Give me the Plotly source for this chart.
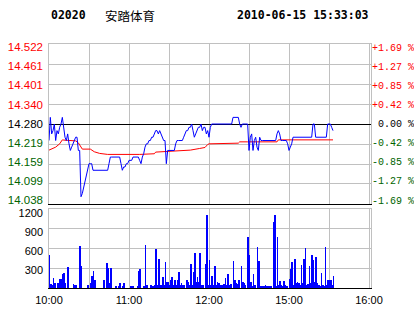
import plotly.graph_objects as go

# ---------------- data ----------------
stock_code = "02020"
stock_name = "安踏体育"
stamp = "2010-06-15 15:33:03"
prev_close = 14.28

sessions = [("10:00", "12:29"), ("14:30", "15:33")]

prices = [
    14.23, 14.30, 14.25, 14.26, 14.28, 14.23, 14.26, 14.25, 14.27, 14.28,
    14.30, 14.26, 14.24, 14.23, 14.25, 14.22, 14.20, 14.21, 14.22, 14.23,
    14.24, 14.24, 14.20, 14.20, 14.06, 14.07, 14.09, 14.11, 14.13, 14.15,
    14.16, 14.16, 14.16, 14.14, 14.14, 14.14, 14.14, 14.14, 14.14, 14.14,
    14.14, 14.14, 14.14, 14.14, 14.14, 14.16, 14.18, 14.18, 14.18, 14.18,
    14.18, 14.18, 14.18, 14.18, 14.16, 14.14, 14.15, 14.15, 14.16, 14.16,
    14.17, 14.17, 14.17, 14.18, 14.18, 14.18, 14.18, 14.18, 14.17, 14.16,
    14.18, 14.19, 14.21, 14.22, 14.22, 14.23, 14.23, 14.24, 14.24, 14.25,
    14.26, 14.26, 14.25, 14.26, 14.25, 14.24, 14.23, 14.23, 14.16, 14.20,
    14.20, 14.20, 14.20, 14.20, 14.20, 14.22, 14.23, 14.23, 14.23, 14.23,
    14.23, 14.24, 14.25, 14.26, 14.26, 14.27, 14.27, 14.28, 14.26, 14.24,
    14.25, 14.26, 14.27, 14.27, 14.28, 14.26, 14.27, 14.27, 14.25, 14.26,
    14.24, 14.27, 14.28, 14.28, 14.28, 14.28, 14.28, 14.28, 14.28, 14.28,
    14.28, 14.28, 14.28, 14.28, 14.28, 14.28, 14.28, 14.28, 14.30, 14.30,
    14.30, 14.30, 14.30, 14.28, 14.27, 14.28, 14.28, 14.28, 14.28, 14.28,
    14.20, 14.24, 14.25, 14.20, 14.23, 14.24, 14.21, 14.20, 14.24, 14.23,
    14.23, 14.23, 14.23, 14.23, 14.23, 14.23, 14.23, 14.23, 14.23, 14.23,
    14.23, 14.25, 14.26, 14.25, 14.23, 14.23, 14.23, 14.23, 14.23, 14.22,
    14.20, 14.21, 14.22, 14.24, 14.24, 14.24, 14.24, 14.24, 14.24, 14.24,
    14.24, 14.24, 14.24, 14.24, 14.24, 14.24, 14.24, 14.24, 14.28, 14.28,
    14.24, 14.24, 14.24, 14.24, 14.24, 14.24, 14.24, 14.24, 14.24, 14.28,
    14.28, 14.28, 14.27, 14.26,
]

volumes = [
    505, 60, 50, 148, 71, 0, 71, 71, 130, 130,
    214, 229, 71, 0, 316, 0, 0, 0, 60, 40,
    40, 0, 0, 642, 336, 0, 0, 0, 0, 40,
    0, 76, 183, 260, 122, 0, 0, 0, 0, 0,
    0, 122, 0, 387, 306, 76, 306, 0, 0, 0,
    35, 0, 35, 72, 0, 35, 72, 0, 0, 0,
    0, 35, 35, 35, 0, 0, 35, 260, 290, 0,
    0, 35, 657, 40, 0, 0, 50, 35, 35, 45,
    596, 45, 438, 45, 45, 165, 45, 402, 95, 95,
    45, 122, 168, 45, 122, 45, 122, 250, 45, 76,
    45, 45, 0, 122, 95, 45, 367, 45, 250, 530,
    95, 163, 97, 530, 46, 46, 0, 367, 1106, 46,
    428, 46, 183, 46, 336, 46, 97, 71, 46, 46,
    46, 55, 148, 46, 214, 46, 55, 0, 412, 122,
    71, 55, 122, 0, 336, 97, 71, 46, 0, 770,
    494, 97, 31, 214, 46, 0, 627, 412, 31, 31,
    31, 31, 46, 31, 31, 31, 31, 0, 1009, 1116,
    31, 770, 46, 110, 46, 31, 110, 46, 31, 0,
    140, 290, 402, 46, 443, 71, 97, 71, 46, 351,
    71, 443, 606, 46, 55, 341, 76, 505, 428, 97,
    469, 76, 46, 31, 229, 46, 31, 627, 46, 122,
    122, 122, 46, 183,
]

avg_times = ["10:00", "10:02", "10:05", "10:08", "10:10", "10:12", "10:20", "10:22",
             "10:25", "10:31", "10:34", "10:38", "10:44", "11:08", "11:19", "11:20",
             "11:35", "11:46", "11:53", "11:57", "11:59", "12:00", "12:22", "12:23",
             "12:29", "14:30", "14:51", "14:52", "15:33"]
avg_prices = [14.201, 14.205, 14.210, 14.220, 14.232, 14.231, 14.229, 14.223,
              14.204, 14.204, 14.196, 14.191, 14.188, 14.188, 14.190, 14.195,
              14.198, 14.201, 14.206, 14.209, 14.218, 14.220, 14.222, 14.226,
              14.226, 14.226, 14.226, 14.232, 14.232]

price_ticks = [14.038, 14.099, 14.159, 14.219, 14.280, 14.340, 14.401, 14.461, 14.522]
pct_labels = ["-1.69 %", "-1.27 %", "-0.85 %", "-0.42 %", " 0.00 %",
              "+0.42 %", "+0.85 %", "+1.27 %", "+1.69 %"]
vol_ticks = [300, 600, 900, 1200]
time_ticks = ["10:00", "10:30", "11:00", "11:30", "12:00", "14:30", "15:00", "15:30", "16:00"]
time_labels = ["10:00", "", "11:00", "", "12:00", "", "15:00", "", "16:00"]

# ---------------- helpers ----------------
def to_min(t):
    h, m = t.split(":")
    return int(h) * 60 + int(m)

AM_START = to_min("10:00")
AM_LEN = to_min("12:30") - AM_START
PM_START = to_min("14:30")

def sess_index(t):
    k = to_min(t)
    if k >= PM_START:
        return AM_LEN + (k - PM_START)
    return k - AM_START

minute_times = []
for a, b in sessions:
    for k in range(to_min(a), to_min(b) + 1):
        minute_times.append(f"{k // 60:02d}:{k % 60:02d}")

xs = [sess_index(t) for t in minute_times]
avg_x = [sess_index(t) for t in avg_times]
tick_x = [sess_index(t) for t in time_ticks]

RED = "#ff0000"
GREEN = "#006400"
GRID = "#c0c0c0"

def color_for(v):
    if abs(v - prev_close) < 1e-9:
        return "#000000"
    return RED if v > prev_close else GREEN

left_text = [f'<span style="color:{color_for(v)}">{v:.3f}</span>' for v in price_ticks]
right_text = [f'<span style="color:{color_for(v)}">{s}</span>' for v, s in zip(price_ticks, pct_labels)]

# ---------------- geometry ----------------
W, H = 414, 314
ml, mr, mt, mb = 49, 43, 44, 26
ph = H - mt - mb
TOP_Y0, TOP_Y1 = 44, 204      # top panel pixel rows
BOT_Y0, BOT_Y1 = 209, 288     # volume panel pixel rows
top_dom = [(H - mb - TOP_Y1) / ph, 1]
bot_dom = [0, (H - mb - BOT_Y0) / ph]

p_lo, p_hi = price_ticks[0], price_ticks[-1]
p_per_px = (p_hi - p_lo) / 152.8
lab_range = [p_lo - 4.0 * p_per_px, p_hi + 3.2 * p_per_px]
v_per_px = (vol_ticks[-1] - vol_ticks[0]) / 56.7
vlab_range = [vol_ticks[0] - 18.0 * v_per_px, vol_ticks[-1] + 4.3 * v_per_px]

# ---------------- figure ----------------
fig = go.Figure()

def dummy(xa, ya, yv):
    fig.add_trace(go.Scatter(x=[xs[0]], y=[yv], mode="lines", line=dict(width=0),
                             xaxis=xa, yaxis=ya, hoverinfo="skip", showlegend=False))

fig.add_trace(go.Scatter(x=avg_x, y=avg_prices, mode="lines",
                         line=dict(color=RED, width=1), xaxis="x", yaxis="y",
                         hoverinfo="skip", showlegend=False))
fig.add_trace(go.Scatter(x=xs, y=prices, mode="lines",
                         line=dict(color="#0000ff", width=1), xaxis="x", yaxis="y",
                         hoverinfo="skip", showlegend=False))
dummy("x", "y3", prev_close)
dummy("x", "y4", prev_close)
dummy("x", "y6", 0)
dummy("x3", "y", prev_close)
fig.add_trace(go.Bar(x=xs, y=volumes, width=0.75, offset=0,
                     marker=dict(color="#0000ff", line=dict(width=0)),
                     xaxis="x2", yaxis="y2", hoverinfo="skip", showlegend=False))
dummy("x2", "y5", vol_ticks[0])
dummy("x4", "y2", vol_ticks[0])

xcommon = dict(range=[0, 241.5], tickvals=tick_x, showgrid=True, gridcolor=GRID,
               gridwidth=1, zeroline=False, showline=True, mirror=False,
               linecolor="black", linewidth=1, ticks="", automargin=False)
xtop = dict(range=[0, 241.5], showgrid=False, zeroline=False, showline=True,
            linecolor=GRID, linewidth=1, ticks="", showticklabels=False,
            side="top", automargin=False)
grid_y = dict(showgrid=True, gridcolor=GRID, gridwidth=1, zeroline=False,
              showline=True, mirror=True, linecolor=GRID, linewidth=1,
              ticks="", showticklabels=False, automargin=False)
label_y = dict(showgrid=False, zeroline=False, showline=False, ticks="",
               automargin=False)

fig.update_layout(
    width=W, height=H,
    margin=dict(l=ml, r=mr, t=mt, b=mb, pad=0, autoexpand=False),
    paper_bgcolor="white", plot_bgcolor="white",
    showlegend=False, bargap=0,
    xaxis=dict(**xcommon, anchor="y", showticklabels=False),
    xaxis2=dict(**xcommon, anchor="y2", ticktext=time_labels, ticklabelstandoff=2,
                tickfont=dict(family="Liberation Sans", size=11, color="black")),
    xaxis3=dict(**xtop, overlaying="x", anchor="y"),
    xaxis4=dict(**xtop, overlaying="x2", anchor="y2"),
    yaxis=dict(**grid_y, domain=top_dom, range=[p_lo, p_hi], tickvals=price_ticks,
               anchor="x"),
    yaxis6=dict(overlaying="y", anchor="x", range=[p_lo - prev_close, p_hi - prev_close],
                showgrid=False, showline=False, showticklabels=False, ticks="",
                zeroline=True, zerolinecolor="black", zerolinewidth=1,
                automargin=False),
    yaxis4=dict(**label_y, overlaying="y", side="left", anchor="x",
                range=lab_range, tickvals=price_ticks, ticktext=left_text,
                ticklabelstandoff=5,
                tickfont=dict(family="Liberation Sans", size=11.5, color="black")),
    yaxis3=dict(**label_y, overlaying="y", side="right", anchor="x",
                range=lab_range, tickvals=price_ticks, ticktext=right_text,
                ticklabelstandoff=0,
                tickfont=dict(family="Liberation Mono", size=10, color="black")),
    yaxis2=dict(**grid_y, domain=bot_dom, range=[0, vol_ticks[-1]],
                tickvals=vol_ticks, anchor="x2"),
    yaxis5=dict(**label_y, overlaying="y2", side="left", anchor="x2",
                range=vlab_range, tickvals=vol_ticks, ticklabelstandoff=5,
                tickfont=dict(family="Liberation Sans", size=11, color="black")),
)

hdr_font = dict(family="DejaVu Sans Mono", size=11.5, color="black")
fig.add_annotation(text=f"<b>{stock_code}</b>", xref="paper", yref="paper",
                   x=0, y=1, xanchor="left", yanchor="middle", xshift=0, yshift=29,
                   showarrow=False, font=hdr_font)
fig.add_annotation(text=stock_name, xref="paper", yref="paper",
                   x=0, y=1, xanchor="left", yanchor="middle", xshift=54, yshift=29,
                   showarrow=False,
                   font=dict(family="Noto Sans CJK SC", size=12.5, color="black"))
fig.add_annotation(text=f"<b>{stamp}</b>", xref="paper", yref="paper",
                   x=1, y=1, xanchor="right", yanchor="middle", xshift=0, yshift=29,
                   showarrow=False, font=hdr_font)

fig.write_html("out.html")
